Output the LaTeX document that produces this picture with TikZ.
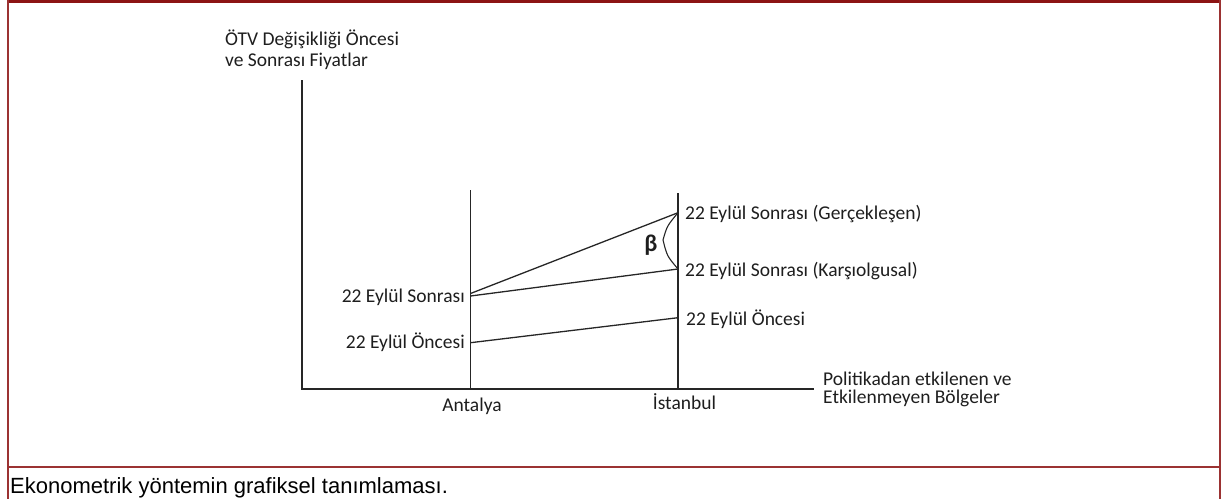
\documentclass[tikz,border=0pt]{standalone}
\usepackage{fontspec}
\setmainfont{Carlito}
\newfontfamily\capfont{Liberation Sans}
\definecolor{frameside}{RGB}{155,50,50}
\definecolor{frametop}{RGB}{140,20,20}
\definecolor{txt}{RGB}{30,30,30}
\begin{document}
\begin{tikzpicture}[x=1pt,y=-1pt,
  lbl/.style={inner sep=0pt, text=txt, font=\fontsize{19.5}{22}\selectfont},
  ln/.style={line width=1.3pt, draw=black!85},
  frm/.style={line width=2pt, draw=frameside}]
\useasboundingbox (0,0) rectangle (1223,499);
% frame
\fill[frametop] (7,0) rectangle (1221,3.4);
\draw[frm] (8,0) -- (8,499);
\draw[frm] (1220,0) -- (1220,499);
\draw[frm] (8,467) -- (1220,467);
% coordinates
\coordinate (O) at (302,389);
\coordinate (Ytop) at (302,80);
\coordinate (Xend) at (814,389);
\coordinate (Abot) at (470.5,389);
\coordinate (Atop) at (470.5,190);
\coordinate (Ibot) at (678,389);
\coordinate (Itop) at (678,193);
\coordinate (AS1) at (470.5,293.5);
\coordinate (AS2) at (470.5,296);
\coordinate (AO) at (470.5,342.7);
\coordinate (IG) at (678,212.7);
\coordinate (IK) at (678,269);
\coordinate (IO) at (678,317.7);
\coordinate (bm) at (663,240);
% axes
\draw[ln] (Ytop) -- (O) -- (Xend);
\draw[ln] (Atop) -- (Abot);
\draw[ln] (Itop) -- (Ibot);
% lines
\draw[ln] (AS1) -- (IG);
\draw[ln] (AS2) -- (IK);
\draw[ln] (AO) -- (IO);
\draw[ln, line width=1.1pt] (IG) .. controls (667,226) .. (bm) .. controls (667,256) .. (IK);
\node[lbl, font=\fontsize{24}{26}\selectfont\bfseries] (beta) at (651,245) {β};
% labels
\node[lbl, anchor=base west] (yl1) at (225,45) {ÖTV Değişikliği Öncesi};
\node[lbl, anchor=base west] (yl2) at (225,66) {ve Sonrası Fiyatlar};
\node[lbl, anchor=base west] (xl1) at (823,385) {Politikadan etkilenen ve};
\node[lbl, anchor=base west] (xl2) at (823,403) {Etkilenmeyen Bölgeler};
\node[lbl, anchor=base east] (las) at (465,302) {22 Eylül Sonrası};
\node[lbl, anchor=base east] (lao) at (465,348) {22 Eylül Öncesi};
\node[lbl, anchor=base west] (lig) at (685,219) {22 Eylül Sonrası (Gerçekleşen)};
\node[lbl, anchor=base west] (lik) at (685,276) {22 Eylül Sonrası (Karşıolgusal)};
\node[lbl, anchor=base west] (lio) at (686,325) {22 Eylül Öncesi};
\node[lbl, anchor=base] (ant) at (472,411) {Antalya};
\node[lbl, anchor=base] (ist) at (684.5,409) {İstanbul};
% caption
\node[inner sep=0pt, anchor=base west, font=\capfont\fontsize{22}{24}\selectfont] (cap) at (10,493) {Ekonometrik yöntemin grafiksel tanımlaması.};
\end{tikzpicture}
\end{document}
